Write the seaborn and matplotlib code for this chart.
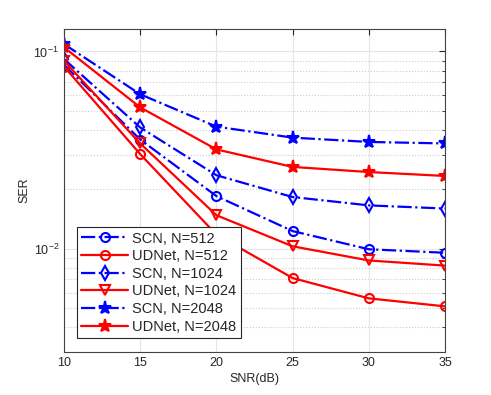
import numpy as np
import pandas as pd
import matplotlib
matplotlib.use("Agg")
import matplotlib.pyplot as plt
import seaborn as sns
from matplotlib.ticker import LogLocator, NullFormatter

# SNR grid and SER values
snr = [10, 15, 20, 25, 30, 35]
scn_512 = [0.0855, 0.0358, 0.0185, 0.0123, 0.00995, 0.00955]
udnet_512 = [0.0839, 0.0302, 0.0118, 0.00711, 0.00561, 0.00511]
scn_1024 = [0.0915, 0.0412, 0.0236, 0.0183, 0.0166, 0.0160]
udnet_1024 = [0.0897, 0.0342, 0.0148, 0.0103, 0.00873, 0.00822]
scn_2048 = [0.109, 0.0607, 0.0416, 0.0366, 0.0348, 0.0342]
udnet_2048 = [0.105, 0.0521, 0.0319, 0.0260, 0.0245, 0.0234]

labels = ["SCN, N=512", "UDNet, N=512", "SCN, N=1024",
          "UDNet, N=1024", "SCN, N=2048", "UDNet, N=2048"]
series = [scn_512, udnet_512, scn_1024, udnet_1024, scn_2048, udnet_2048]

sns.set_style("white")
plt.rcParams['font.family'] = ['Liberation Sans', 'DejaVu Sans']
plt.rcParams['mathtext.fontset'] = 'custom'
plt.rcParams['mathtext.rm'] = 'Liberation Sans'

fig = plt.figure(figsize=(4.91, 3.95), dpi=100)
ax = fig.add_axes([64 / 491, 1 - 352 / 395, 381 / 491, 323 / 395])

styles = [
    dict(color='#0000FF', linestyle='-.', marker='o', markersize=6.5, markerfacecolor='none'),
    dict(color='#FF0000', linestyle='-', marker='o', markersize=6.5, markerfacecolor='none'),
    dict(color='#0000FF', linestyle='-.', marker='d', markersize=7, markerfacecolor='none'),
    dict(color='#FF0000', linestyle='-', marker='v', markersize=7, markerfacecolor='none'),
    dict(color='#0000FF', linestyle='-.', marker='*', markersize=9.5),
    dict(color='#FF0000', linestyle='-', marker='*', markersize=9.5),
]

for lab, vals, st in zip(labels, series, styles):
    df = pd.DataFrame({'SNR': snr, 'SER': vals})
    sns.lineplot(data=df, x='SNR', y='SER', ax=ax, label=lab, linewidth=1.6,
                 markeredgewidth=1.5, markeredgecolor=st['color'],
                 dashes=False if st['linestyle'] == '-' else True, **st)

ax.set_yscale('log')
ax.set_xlim(10, 35)
ax.set_ylim(0.003, 0.13)
ax.set_xticks([10, 15, 20, 25, 30, 35])
ax.yaxis.set_major_locator(LogLocator(base=10, numticks=10))
ax.yaxis.set_minor_locator(LogLocator(base=10, subs=np.arange(2, 10), numticks=10))
ax.yaxis.set_minor_formatter(NullFormatter())

ax.grid(True, which='major', color='#e6e6e6', linestyle='-', linewidth=0.8)
ax.grid(True, which='minor', axis='y', color='#cccccc', linestyle=':', linewidth=0.8)
ax.set_axisbelow(True)

for sp in ax.spines.values():
    sp.set_color('#444444')
    sp.set_linewidth(0.8)
ax.tick_params(which='both', direction='in', top=True, right=True,
               colors='#262626', labelsize=9)
ax.tick_params(which='major', length=4)
ax.tick_params(which='minor', length=2)

ax.set_xlabel('SNR(dB)', fontsize=9, color='#262626', labelpad=3)
ax.set_ylabel('SER', fontsize=9, color='#262626', labelpad=2)

leg = ax.legend(loc='lower left', bbox_to_anchor=(0.034, 0.043), fontsize=10.5,
                frameon=True, fancybox=False, framealpha=1, edgecolor='#262626',
                borderpad=0.3, labelspacing=0.25, handlelength=3.2,
                handletextpad=0.3, borderaxespad=0)
leg.get_frame().set_linewidth(0.8)

fig.savefig('out.png', dpi=100)
